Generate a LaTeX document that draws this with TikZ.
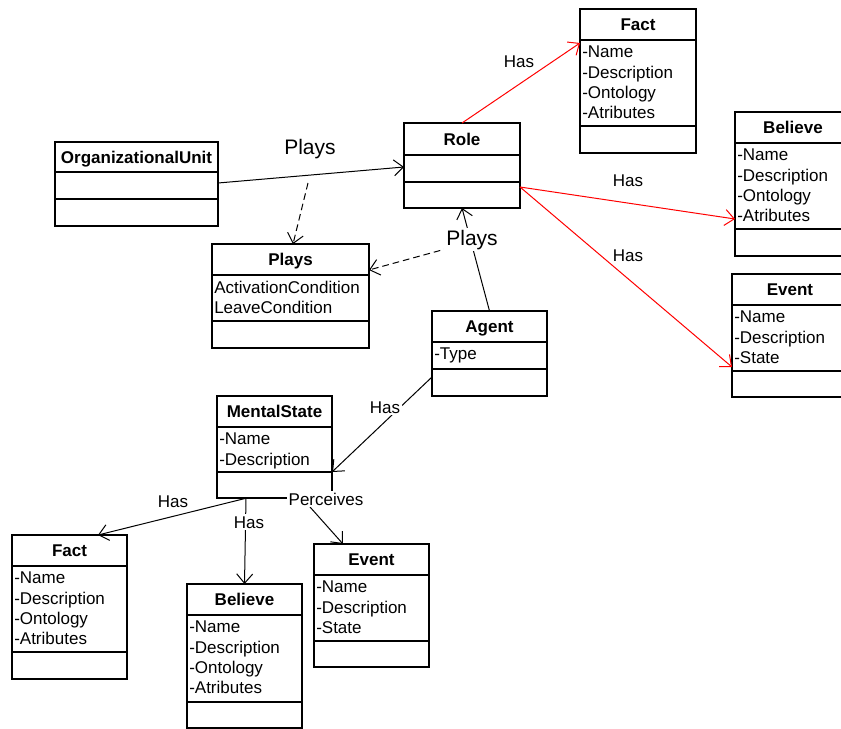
\documentclass[tikz,border=0pt]{standalone}
\usepackage{fontspec}
\setmainfont{Liberation Sans}
\usetikzlibrary{calc, arrows.meta}

\tikzset{
  classbox/.style={draw, line width=1.2pt, inner sep=0pt, outer sep=0pt, anchor=north west},
  classtitle/.style={font=\fontsize{12.75}{15.2}\selectfont\bfseries, inner sep=0pt, anchor=base},
  classattr/.style={font=\fontsize{12.75}{15.2}\selectfont, inner sep=0pt, anchor=north west, align=left},
  assoc/.style={line width=0.75pt, -{Straight Barb[length=7pt,width=12pt]}},
  lbl/.style={font=\fontsize{12.75}{15.2}\selectfont, inner sep=1.5pt, anchor=base},
  biglbl/.style={font=\fontsize{15.75}{18}\selectfont, inner sep=1.5pt, anchor=base},
}

\newcommand{\umlclass}[9]{%
  \node[classbox, minimum width=#4*0.75pt, minimum height=#5*0.75pt] (#1) at (#2,#3) {};
  \draw[line width=1.2pt] ($(#1.north west)+(0,#6)$) -- ($(#1.north east)+(0,#6)$);
  \draw[line width=1.2pt] ($(#1.north west)+(0,#7)$) -- ($(#1.north east)+(0,#7)$);
  \node[classtitle] (#1-title) at ($(#1.north)+(0,#6/2+6)$) {#8};
  \node[classattr] (#1-attr) at ($(#1.north west)+(2,#6+6)$) {#9};
}

\begin{document}
\begin{tikzpicture}[x=0.75pt, y=-0.75pt]
\useasboundingbox (0,0) rectangle (841,728);
\clip (0,0) rectangle (841,728);
\fill[white] (0,0) rectangle (841,728);

\umlclass{factr}{580}{9}{116}{144}{31}{117}{Fact}{-Name\\-Description\\-Ontology\\-Atributes}
\umlclass{role}{404}{123}{116}{85}{32}{59}{Role}{}
\umlclass{orgunit}{55}{142}{163}{84}{30}{57}{OrganizationalUnit}{}
\umlclass{believer}{735}{112}{116}{144}{31}{117}{Believe}{-Name\\-Description\\-Ontology\\-Atributes}
\umlclass{plays}{212}{244}{157}{104}{31}{77}{Plays}{ActivationCondition\\LeaveCondition}
\umlclass{eventr}{732}{274}{116}{123}{31}{97}{Event}{-Name\\-Description\\-State}
\umlclass{agent}{432}{311}{115}{85}{31}{58}{Agent}{-Type}
\umlclass{mental}{217}{396}{115}{102}{31}{76}{MentalState}{-Name\\-Description}
\umlclass{factb}{12}{535}{115}{144}{31}{117}{Fact}{-Name\\-Description\\-Ontology\\-Atributes}
\umlclass{believeb}{187}{584}{115}{144}{31}{118}{Believe}{-Name\\-Description\\-Ontology\\-Atributes}
\umlclass{eventb}{314}{544}{115}{123}{31}{97}{Event}{-Name\\-Description\\-State}

\coordinate (ou-plays) at (308,183);
\draw[assoc] ($(orgunit.north east)+(0,41)$) -- ($(role.north west)+(0,44)$);
\draw[assoc] (agent.north) -- (role.south) coordinate[pos=0.67] (agent-role);
\draw[assoc, dashed, dash pattern=on 5pt off 3pt] (ou-plays) -- ($(plays.north west)+(81,0)$);
\draw[assoc, dashed, dash pattern=on 5pt off 3pt] (agent-role) -- ($(plays.north east)+(0,26)$);
\draw[assoc, red] (role.north) -- ($(factr.north west)+(0,34)$);
\draw[assoc, red] ($(role.north east)+(0,64)$) -- ($(believer.north west)+(0,107)$);
\draw[assoc, red] ($(role.north east)+(0,64)$) -- ($(eventr.north west)+(0,93)$);
\draw[assoc] ($(agent.north west)+(0,66)$) -- ($(mental.north east)+(0,76)$);
\draw[assoc] ($(mental.south west)+(30,0)$) -- ($(factb.north west)+(86,0)$);
\draw[assoc] ($(mental.south west)+(29,0)$) -- (believeb.north);
\draw[assoc] ($(mental.south west)+(85,0)$) -- ($(eventb.north west)+(29,0)$);

\node[lbl] (has-fact) at (519,67) {Has};
\node[lbl] (has-believe) at (628,186) {Has};
\node[lbl] (has-event) at (628,261) {Has};
\node[biglbl] (plays-ou) at (310,154.5) {Plays};
\node[biglbl, fill=white] (plays-agent) at (472,245) {Plays};
\node[lbl, fill=white] (has-mental) at (385,413) {Has};
\node[lbl] (has-factb) at (173,507) {Has};
\node[lbl, fill=white] (has-believeb) at (249,528) {Has};
\node[lbl, fill=white] (perceives) at (326,505) {Perceives};
\end{tikzpicture}
\end{document}
